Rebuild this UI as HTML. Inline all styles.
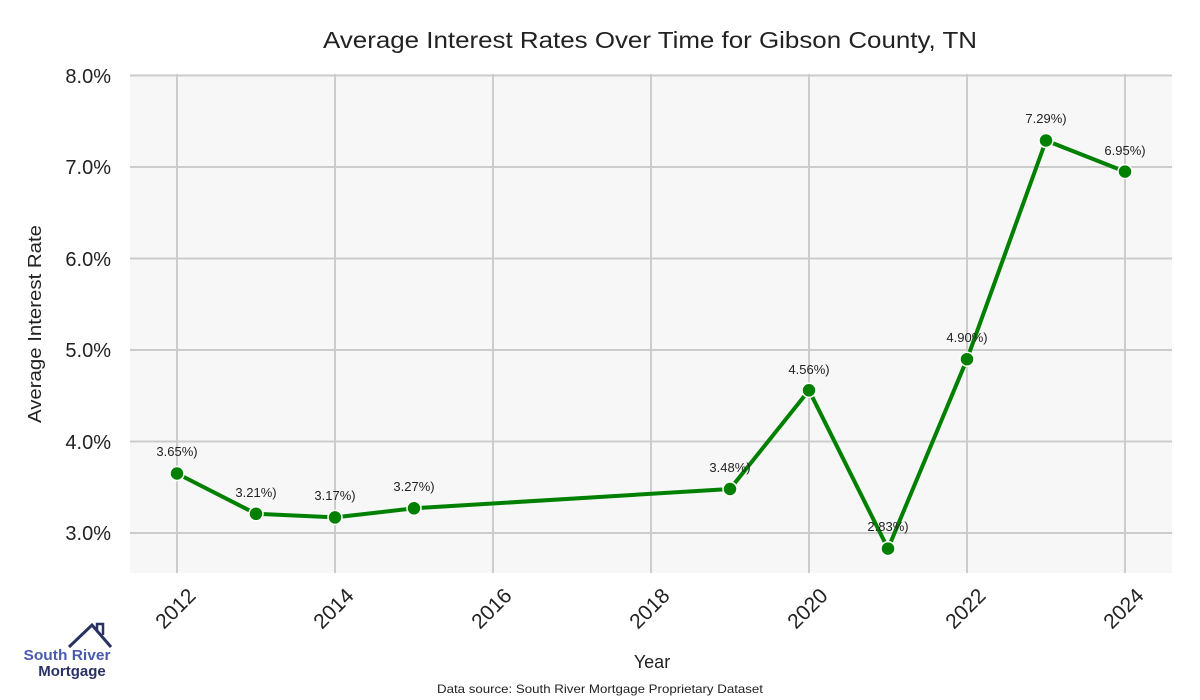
<!DOCTYPE html>
<html><head><meta charset="utf-8"><style>body{margin:0;background:#fff}svg{display:block;font-family:"Liberation Sans",sans-serif}</style></head>
<body>
<svg width="1200" height="700" viewBox="0 0 1200 700">
<rect x="130" y="74" width="1042" height="499" fill="#f7f7f7"/>
<g stroke="#cccccc" stroke-width="2">
<line x1="130" x2="1172" y1="75.5" y2="75.5"/><line x1="130" x2="1172" y1="167" y2="167"/>
<line x1="130" x2="1172" y1="258.5" y2="258.5"/><line x1="130" x2="1172" y1="350" y2="350"/>
<line x1="130" x2="1172" y1="441.5" y2="441.5"/><line x1="130" x2="1172" y1="533" y2="533"/>
<line x1="177" x2="177" y1="74" y2="573"/><line x1="335" x2="335" y1="74" y2="573"/>
<line x1="493" x2="493" y1="74" y2="573"/><line x1="651" x2="651" y1="74" y2="573"/>
<line x1="809" x2="809" y1="74" y2="573"/><line x1="967" x2="967" y1="74" y2="573"/>
<line x1="1125" x2="1125" y1="74" y2="573"/>
</g>
<text x="650" y="48" text-anchor="middle" font-size="23" fill="#222" textLength="654" lengthAdjust="spacingAndGlyphs">Average Interest Rates Over Time for Gibson County, TN</text>
<g font-size="20" fill="#222" text-anchor="end">
<text x="111" y="83">8.0%</text><text x="111" y="174">7.0%</text><text x="111" y="266">6.0%</text>
<text x="111" y="357">5.0%</text><text x="111" y="449">4.0%</text><text x="111" y="540">3.0%</text>
</g>
<text transform="translate(41,324) rotate(-90)" text-anchor="middle" font-size="18" fill="#222" textLength="198" lengthAdjust="spacingAndGlyphs">Average Interest Rate</text>
<g font-size="21" fill="#222" text-anchor="end">
<text transform="translate(197,597) rotate(-45)">2012</text>
<text transform="translate(355,597) rotate(-45)">2014</text>
<text transform="translate(513,597) rotate(-45)">2016</text>
<text transform="translate(671,597) rotate(-45)">2018</text>
<text transform="translate(829,597) rotate(-45)">2020</text>
<text transform="translate(987,597) rotate(-45)">2022</text>
<text transform="translate(1145,597) rotate(-45)">2024</text>
</g>
<text x="652" y="668" text-anchor="middle" font-size="18" fill="#222">Year</text>
<text x="600" y="693" text-anchor="middle" font-size="12" fill="#222" textLength="326" lengthAdjust="spacingAndGlyphs">Data source: South River Mortgage Proprietary Dataset</text>
<polyline fill="none" stroke="#008000" stroke-width="4" stroke-linejoin="round" points="177,473.5 256,513.8 335,517.4 414,508.3 730,489 809,390.3 888,548.6 967,359.2 1046,140.5 1125,171.6"/>
<g fill="#008000" stroke="#fff" stroke-width="1.5">
<circle cx="177" cy="473.5" r="7"/><circle cx="256" cy="513.8" r="7"/><circle cx="335" cy="517.4" r="7"/>
<circle cx="414" cy="508.3" r="7"/><circle cx="730" cy="489" r="7"/><circle cx="809" cy="390.3" r="7"/>
<circle cx="888" cy="548.6" r="7"/><circle cx="967" cy="359.2" r="7"/><circle cx="1046" cy="140.5" r="7"/>
<circle cx="1125" cy="171.6" r="7"/>
</g>
<g font-size="13" fill="#222" text-anchor="middle">
<text x="177" y="456">3.65%)</text><text x="256" y="497">3.21%)</text><text x="335" y="500">3.17%)</text>
<text x="414" y="491">3.27%)</text><text x="730" y="472">3.48%)</text><text x="809" y="374">4.56%)</text>
<text x="888" y="531">2.83%)</text><text x="967" y="342">4.90%)</text><text x="1046" y="123">7.29%)</text>
<text x="1125" y="155">6.95%)</text>
</g>
<polyline fill="none" stroke="#2a3163" stroke-width="3" points="69,647 92,625 111,647"/>
<polyline fill="none" stroke="#2a3163" stroke-width="2.5" points="97,630 97,624 103,624 103,635"/>
<text x="67" y="660" text-anchor="middle" font-size="15" font-weight="bold" fill="#4a5bb0" textLength="87" lengthAdjust="spacingAndGlyphs">South River</text>
<text x="72" y="676" text-anchor="middle" font-size="15" font-weight="bold" fill="#2a3163">Mortgage</text>
</svg>
</body></html>
